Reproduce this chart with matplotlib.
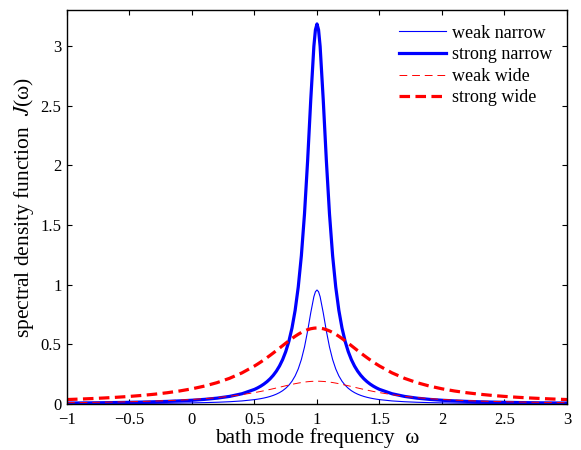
import matplotlib
matplotlib.use("Agg")
import matplotlib.pyplot as plt

# distance from the peak at omega = 1 (curves are symmetric about it)
offset = [2.0, 1.9, 1.8, 1.7, 1.6, 1.5, 1.4, 1.3, 1.2, 1.1, 1.0, 0.9, 0.8, 0.7, 0.6,
          0.5, 0.475, 0.45, 0.425, 0.4, 0.375, 0.35, 0.325, 0.3, 0.275, 0.25, 0.225,
          0.2, 0.175, 0.15, 0.125, 0.1, 0.075, 0.05, 0.025, 0.0125, 0.0]

# values (one half of each curve, same order as offset)
strong_narrow_half = [0.00794, 0.00879, 0.00979, 0.01098, 0.01239, 0.01408, 0.01616,
                      0.01872, 0.02195, 0.02609, 0.03152, 0.03882, 0.04897, 0.06366,
                      0.08603, 0.12243, 0.13509, 0.14979, 0.16698, 0.18724, 0.21133,
                      0.24023, 0.27530, 0.31831, 0.37175, 0.43905, 0.52505, 0.63662,
                      0.78353, 0.97942, 1.24218, 1.59155, 2.03718, 2.54648, 2.99586,
                      3.13413, 3.18310]
weak_narrow_half = [0.00238, 0.00264, 0.00294, 0.00329, 0.00372, 0.00422, 0.00485,
                    0.00562, 0.00659, 0.00783, 0.00946, 0.01165, 0.01469, 0.01910,
                    0.02581, 0.03673, 0.04053, 0.04494, 0.05009, 0.05617, 0.06340,
                    0.07207, 0.08259, 0.09549, 0.11153, 0.13172, 0.15752, 0.19099,
                    0.23506, 0.29383, 0.37265, 0.47746, 0.61115, 0.76394, 0.89876,
                    0.94024, 0.95493]
strong_wide_half = [0.03745, 0.04123, 0.04560, 0.05069, 0.05664, 0.06366, 0.07202,
                    0.08204, 0.09417, 0.10901, 0.12732, 0.15015, 0.17883, 0.21507,
                    0.26091, 0.31831, 0.33462, 0.35173, 0.36959, 0.38818, 0.40744,
                    0.42726, 0.44754, 0.46810, 0.48877, 0.50930, 0.52941, 0.54881,
                    0.56714, 0.58406, 0.59917, 0.61213, 0.62261, 0.63032, 0.63503,
                    0.63622, 0.63662]
weak_wide_half = [0.01124, 0.01237, 0.01368, 0.01521, 0.01699, 0.01910, 0.02161,
                  0.02461, 0.02825, 0.03270, 0.03820, 0.04505, 0.05365, 0.06452,
                  0.07827, 0.09549, 0.10039, 0.10552, 0.11088, 0.11645, 0.12223,
                  0.12818, 0.13426, 0.14043, 0.14663, 0.15279, 0.15882, 0.16464,
                  0.17014, 0.17522, 0.17975, 0.18364, 0.18678, 0.18910, 0.19051,
                  0.19087, 0.19099]

peak = 1.0
xticks = [-1, -0.5, 0, 0.5, 1, 1.5, 2, 2.5, 3]
xticklabels = ["\u22121", "\u22120.5", "0", "0.5", "1", "1.5", "2", "2.5", "3"]
yticks = [0, 0.5, 1, 1.5, 2, 2.5, 3]
yticklabels = ["0", "0.5", "1", "1.5", "2", "2.5", "3"]


# mirror a half curve around the peak
def full_curve(half):
    return half + half[-2::-1]


omega = [peak - d for d in offset] + [peak + d for d in offset[-2::-1]]

plt.rcParams['font.family'] = ['Liberation Serif', 'DejaVu Serif']
plt.rcParams['mathtext.fontset'] = 'stix'

fig = plt.figure(figsize=(5.81, 4.5), dpi=100)
ax = fig.add_axes([0.1153, 0.1022, 0.8606, 0.8756])

ax.plot(omega, full_curve(weak_narrow_half), color='blue', linewidth=0.8, label='weak narrow')
ax.plot(omega, full_curve(strong_narrow_half), color='blue', linewidth=2.3, label='strong narrow')
ax.plot(omega, full_curve(weak_wide_half), color='red', linewidth=0.7, dashes=(8, 5), label='weak wide')
ax.plot(omega, full_curve(strong_wide_half), color='red', linewidth=2.3, dashes=(3.3, 1.7), label='strong wide')

ax.set_xlim(-1, 3)
ax.set_ylim(0, 3.3)
ax.set_xticks(xticks)
ax.set_xticklabels(xticklabels)
ax.set_yticks(yticks)
ax.set_yticklabels(yticklabels)
ax.tick_params(direction='in', top=True, right=True, length=3.7, width=0.8, labelsize=12)
ax.tick_params(axis='x', pad=6)
ax.tick_params(axis='y', pad=4)
for s in ax.spines.values():
    s.set_linewidth(1.0)

ax.set_xlabel("bath mode frequency  \u03c9", fontsize=15.3, labelpad=-0.5)
ax.set_ylabel("spectral density function  $J$(\u03c9)", fontsize=15.5, labelpad=3)

ax.legend(loc='upper right', frameon=False, fontsize=13, handlelength=2.6,
          handletextpad=0.35, labelspacing=0.25, borderaxespad=0.42)

fig.savefig("out.png", dpi=100)
